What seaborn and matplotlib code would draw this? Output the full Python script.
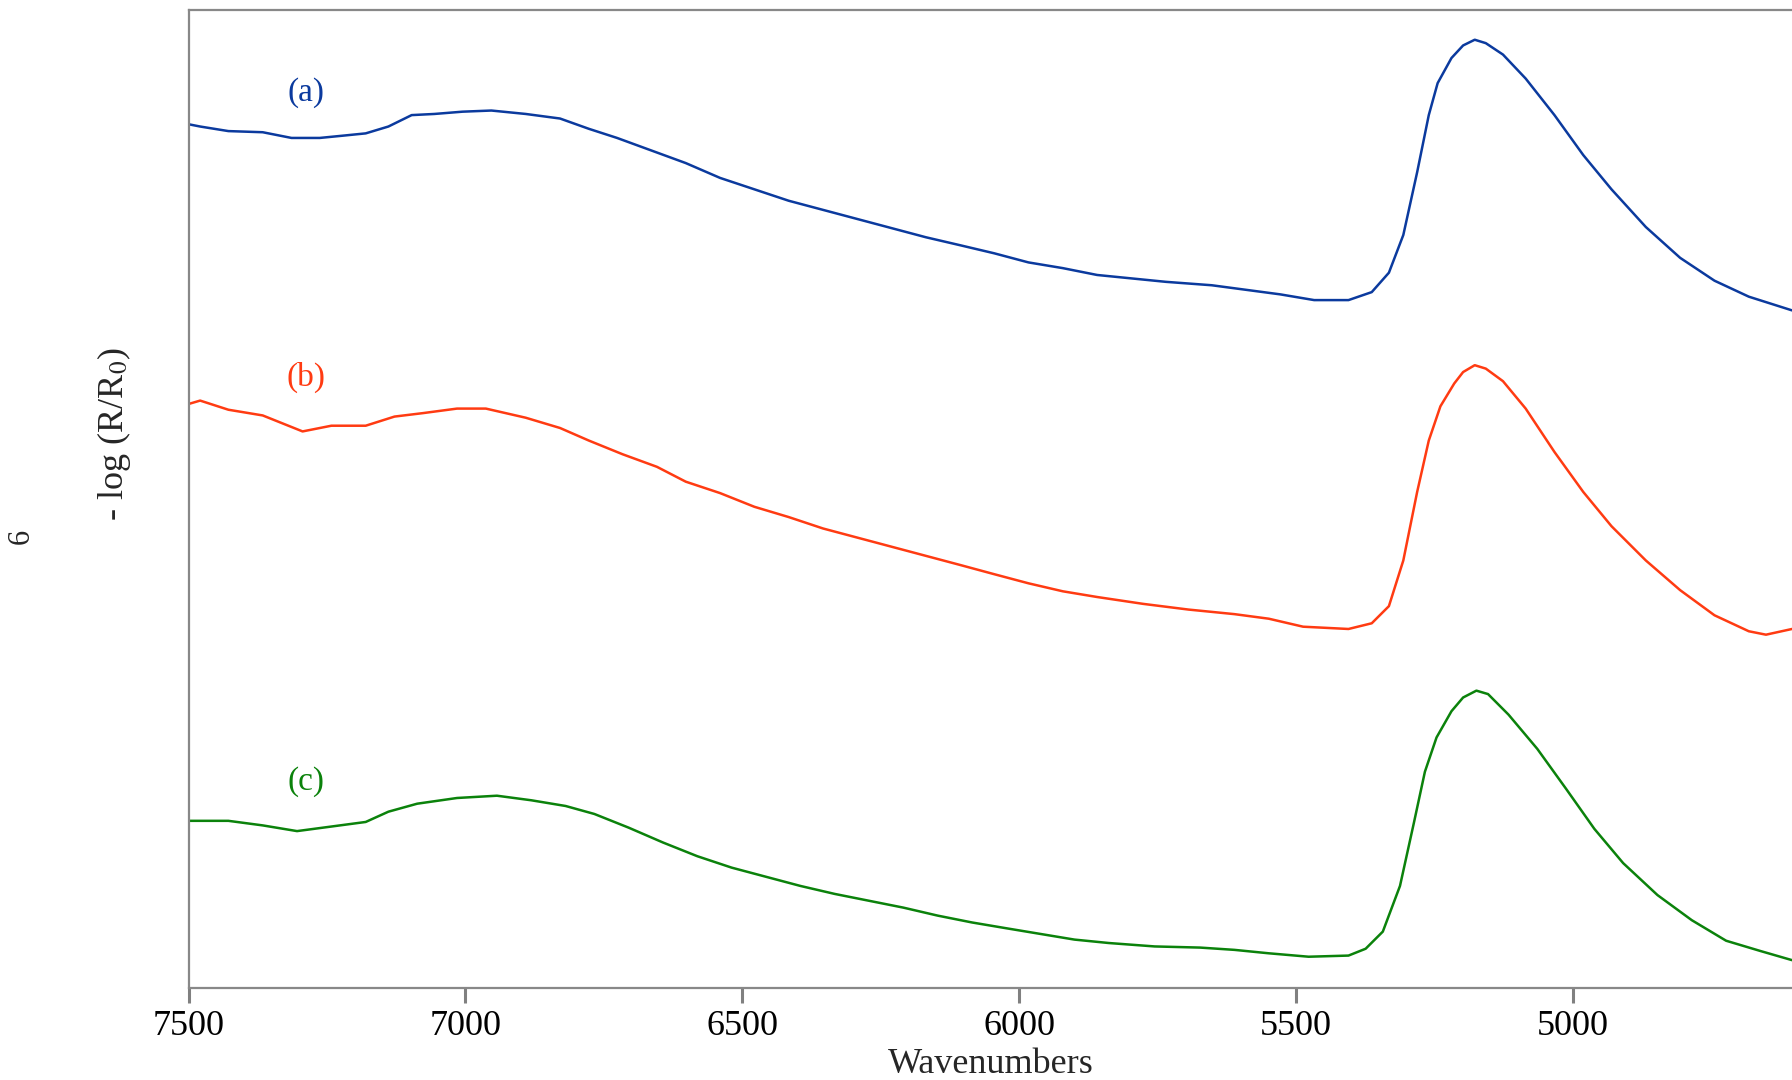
import numpy as np
import pandas as pd
import seaborn as sns
import matplotlib.pyplot as plt

# spectra (arbitrary absorbance units, stacked)
wn_a = [7500, 7479, 7428, 7366, 7314, 7263, 7221, 7180, 7139, 7097, 7056, 7005, 6953,
        6891, 6829, 6777, 6726, 6664, 6602, 6540, 6478, 6416, 6354, 6292, 6230, 6168,
        6106, 6045, 5983, 5921, 5859, 5797, 5735, 5652, 5590, 5528, 5467, 5405, 5363,
        5332, 5306, 5281, 5260, 5244, 5219, 5198, 5177, 5157, 5126, 5085, 5033, 4981,
        4930, 4868, 4806, 4744, 4682, 4604]
abs_a = [0.756, 0.754, 0.750, 0.749, 0.744, 0.744, 0.746, 0.748, 0.754, 0.764, 0.765,
         0.767, 0.768, 0.765, 0.761, 0.752, 0.744, 0.733, 0.722, 0.709, 0.699, 0.689,
         0.681, 0.673, 0.665, 0.657, 0.650, 0.643, 0.635, 0.630, 0.624, 0.621, 0.618,
         0.615, 0.611, 0.607, 0.602, 0.602, 0.609, 0.626, 0.659, 0.714, 0.764, 0.792,
         0.814, 0.825, 0.830, 0.827, 0.817, 0.796, 0.764, 0.729, 0.699, 0.666, 0.639,
         0.619, 0.605, 0.593]

wn_b = [7500, 7479, 7428, 7366, 7294, 7242, 7180, 7128, 7077, 7015, 6963, 6891, 6829,
        6777, 6716, 6654, 6602, 6540, 6478, 6416, 6354, 6292, 6230, 6168, 6106, 6045,
        5983, 5921, 5859, 5776, 5694, 5611, 5549, 5487, 5405, 5363, 5332, 5306, 5281,
        5260, 5239, 5214, 5198, 5177, 5157, 5126, 5085, 5033, 4981, 4930, 4868, 4806,
        4744, 4682, 4651, 4604]
abs_b = [0.511, 0.514, 0.506, 0.501, 0.487, 0.492, 0.492, 0.500, 0.503, 0.507, 0.507,
         0.499, 0.490, 0.479, 0.467, 0.456, 0.443, 0.433, 0.421, 0.412, 0.402, 0.394,
         0.386, 0.378, 0.370, 0.362, 0.354, 0.347, 0.342, 0.336, 0.331, 0.327, 0.323,
         0.316, 0.314, 0.319, 0.334, 0.374, 0.434, 0.479, 0.509, 0.529, 0.539, 0.545,
         0.542, 0.531, 0.507, 0.469, 0.434, 0.404, 0.374, 0.348, 0.326, 0.312, 0.309,
         0.314]

wn_c = [7500, 7428, 7366, 7304, 7242, 7180, 7139, 7087, 7015, 6943, 6881, 6819, 6767,
        6705, 6643, 6581, 6519, 6457, 6395, 6333, 6271, 6209, 6147, 6085, 6024, 5962,
        5900, 5838, 5755, 5673, 5611, 5549, 5477, 5405, 5374, 5343, 5312, 5287, 5267,
        5246, 5219, 5198, 5174, 5153, 5116, 5064, 5012, 4961, 4909, 4847, 4785, 4723,
        4661, 4604]
abs_c = [0.146, 0.146, 0.142, 0.137, 0.141, 0.145, 0.154, 0.161, 0.166, 0.168, 0.164,
         0.159, 0.152, 0.140, 0.127, 0.115, 0.105, 0.097, 0.089, 0.082, 0.076, 0.070,
         0.063, 0.057, 0.052, 0.047, 0.042, 0.039, 0.036, 0.035, 0.033, 0.030, 0.027,
         0.028, 0.034, 0.049, 0.089, 0.144, 0.189, 0.219, 0.242, 0.254, 0.260, 0.257,
         0.239, 0.209, 0.174, 0.139, 0.109, 0.081, 0.059, 0.041, 0.032, 0.024]

labels = ["(a)", "(b)", "(c)"]
colors = ["#0b3a9e", "#ff3b12", "#0b820b"]
label_pos = [0.784, 0.534, 0.180]

sns.set_theme(style="white")
plt.rcParams["font.family"] = ["Liberation Serif", "DejaVu Serif"]
plt.rcParams["mathtext.fontset"] = "stix"

fig = plt.figure(figsize=(17.92, 10.8), dpi=100)
ax = fig.add_axes([0.1052, 0.0856, 0.8948, 0.9051])

series = [(wn_a, abs_a), (wn_b, abs_b), (wn_c, abs_c)]
for (wn, ab), lab, col, ly in zip(series, labels, colors, label_pos):
    df = pd.DataFrame({"wn": wn, "abs": ab})
    sns.lineplot(data=df, x="wn", y="abs", color=col, linewidth=1.8, ax=ax)
    ax.text(7287, ly, lab, color=col, fontsize=24, ha="center", va="center")

ax.set_xlim(7500, 4604)
ax.set_ylim(0, 0.856)
ax.set_xticks([7500, 7000, 6500, 6000, 5500, 5000])
ax.set_yticks([])
ax.set_ylabel("")
ax.set_xlabel("Wavenumbers", fontsize=26, labelpad=4)
ax.tick_params(axis="x", bottom=True, direction="out", length=11, width=2.2,
               color="#808080", labelcolor="black", labelsize=26, pad=5)

for s in ["left", "bottom", "top"]:
    ax.spines[s].set_color("#888888")
    ax.spines[s].set_linewidth(1.6)
ax.spines["right"].set_visible(False)

fig.text(0.0636, 0.598, "- log (R/R$_0$)", rotation=90, fontsize=26,
         ha="center", va="center")
fig.text(0.0117, 0.503, "6", rotation=90, fontsize=22, ha="center", va="center")

fig.savefig("out.png", dpi=100)
